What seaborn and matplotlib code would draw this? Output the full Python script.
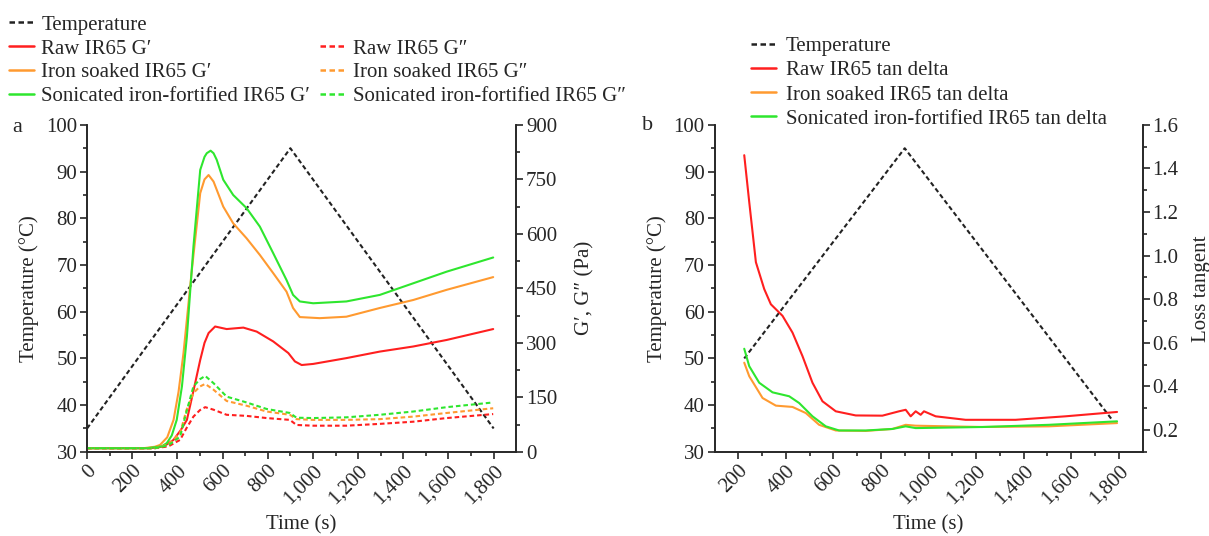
import matplotlib.pyplot as plt
import matplotlib.ticker as mticker
from matplotlib.lines import Line2D
import pandas as pd
import seaborn as sns

# temperature profile (°C)
temp_a_time = [0, 900, 1800]
temp_a_val = [35, 95, 35]
temp_b_time = [225, 900, 1770]
temp_b_val = [50, 95, 37]

# panel a: storage / loss modulus (Pa)
g_time_sonic = [0, 264, 330, 353, 375, 397, 420, 442, 471, 501, 520, 530, 547, 560, 574, 603,
                647, 706, 765, 824, 883, 912, 942, 1001, 1148, 1296, 1444, 1592, 1798]
g1_sonic = [10, 10, 15, 24, 45, 88, 180, 317, 565, 776, 812, 822, 829, 822, 804, 749,
            707, 671, 620, 547, 473, 432, 414, 409, 414, 432, 464, 496, 535]
g_time_iron = [0, 250, 300, 323, 355, 383, 405, 427, 464, 501, 520, 538, 560, 603, 647, 706,
               765, 824, 883, 912, 942, 1030, 1148, 1296, 1444, 1592, 1798]
g1_iron = [10, 10, 14, 19, 40, 88, 165, 272, 501, 712, 750, 762, 744, 675, 629, 588,
           542, 492, 441, 396, 371, 368, 372, 396, 418, 446, 481]
g_time_raw = [0, 280, 340, 383, 415, 442, 470, 501, 520, 538, 567, 618, 692, 751, 824, 891,
              920, 950, 1001, 1148, 1296, 1444, 1592, 1798]
g1_raw = [10, 10, 15, 33, 60, 88, 165, 253, 300, 327, 345, 338, 342, 331, 304, 272,
          249, 239, 242, 258, 276, 290, 308, 338]

g2_time = [0, 300, 360, 412, 440, 471, 500, 523, 560, 618, 706, 795, 898, 927, 1001, 1148,
           1296, 1444, 1592, 1798]
g2_sonic = [10, 10, 18, 42, 110, 180, 200, 209, 189, 152, 136, 118, 107, 94, 93, 95,
            102, 111, 123, 136]
g2_iron = [10, 10, 20, 52, 115, 162, 180, 187, 171, 140, 127, 111, 102, 90, 88, 88,
           90, 97, 107, 120]
g2_raw = [10, 10, 15, 33, 65, 97, 115, 123, 116, 102, 99, 93, 88, 74, 72, 72,
          77, 83, 93, 104]

# panel b: loss tangent
td_time_raw = [225, 246, 274, 309, 337, 386, 428, 470, 512, 554, 610, 694, 806, 876, 904,
               925, 946, 967, 981, 1030, 1156, 1366, 1576, 1793]
td_raw = [1.461, 1.246, 0.970, 0.847, 0.777, 0.724, 0.647, 0.539, 0.417, 0.332, 0.286, 0.267,
          0.266, 0.286, 0.293, 0.263, 0.286, 0.270, 0.286, 0.263, 0.247, 0.247, 0.263, 0.283]
td_time_sonic = [225, 246, 288, 344, 414, 456, 512, 568, 624, 736, 848, 904, 946, 1226, 1506, 1793]
td_sonic = [0.573, 0.493, 0.417, 0.373, 0.355, 0.324, 0.263, 0.217, 0.198, 0.198, 0.205,
            0.217, 0.209, 0.214, 0.224, 0.240]
td_time_iron = [225, 246, 302, 358, 428, 484, 540, 610, 736, 848, 904, 946, 1226, 1506, 1793]
td_iron = [0.509, 0.447, 0.347, 0.312, 0.306, 0.278, 0.224, 0.198, 0.196, 0.205, 0.224,
           0.220, 0.214, 0.217, 0.232]

RED = "#ff1f1f"
ORANGE = "#ff9a30"
GREEN = "#2ee62e"
FS = 15

sns.set_style("ticks")
plt.rcParams['font.family'] = ['Liberation Serif', 'DejaVu Serif']
plt.rcParams['font.size'] = FS
plt.rcParams['xtick.direction'] = 'out'
plt.rcParams['ytick.direction'] = 'out'

fig = plt.figure(figsize=(12.09, 5.36), dpi=100)
ax_a = fig.add_axes([0.072, 0.157, 0.355, 0.610])
ax_b = fig.add_axes([0.591, 0.157, 0.354, 0.610])
ax_a2 = ax_a.twinx()
ax_b2 = ax_b.twinx()

tdash = (0, (2.2, 1.4))
gdash = (0, (2.2, 1.4))
LW = 1.5

# panel a
sns.lineplot(x=temp_a_time, y=temp_a_val, ax=ax_a, color='#222222', linestyle=tdash, lw=LW)
sns.lineplot(x=g_time_raw, y=g1_raw, ax=ax_a2, color=RED, lw=LW)
sns.lineplot(x=g_time_iron, y=g1_iron, ax=ax_a2, color=ORANGE, lw=LW)
sns.lineplot(x=g_time_sonic, y=g1_sonic, ax=ax_a2, color=GREEN, lw=LW)
sns.lineplot(x=g2_time, y=g2_raw, ax=ax_a2, color=RED, linestyle=gdash, lw=LW)
sns.lineplot(x=g2_time, y=g2_iron, ax=ax_a2, color=ORANGE, linestyle=gdash, lw=LW)
sns.lineplot(x=g2_time, y=g2_sonic, ax=ax_a2, color=GREEN, linestyle=gdash, lw=LW)

ax_a.set_xlim(0, 1900)
ax_a.set_ylim(30, 100)
ax_a2.set_ylim(0, 900)
ax_a.set_xticks(range(0, 1801, 200))
ax_a.xaxis.set_minor_locator(mticker.FixedLocator(range(100, 1801, 200)))
ax_a.yaxis.set_minor_locator(mticker.MultipleLocator(5))
ax_a2.set_yticks(range(0, 901, 150))
ax_a2.yaxis.set_minor_locator(mticker.MultipleLocator(75))
ax_a.set_ylabel('Temperature (°C)', labelpad=5)
ax_a2.set_ylabel('G′, G″ (Pa)', labelpad=13)
ax_a.set_xlabel('Time (s)', labelpad=5)

# panel b
sns.lineplot(x=temp_b_time, y=temp_b_val, ax=ax_b, color='#222222', linestyle=tdash, lw=LW)
sns.lineplot(x=td_time_raw, y=td_raw, ax=ax_b2, color=RED, lw=LW)
sns.lineplot(x=td_time_iron, y=td_iron, ax=ax_b2, color=ORANGE, lw=LW)
sns.lineplot(x=td_time_sonic, y=td_sonic, ax=ax_b2, color=GREEN, lw=LW)

ax_b.set_xlim(100, 1900)
ax_b.set_ylim(30, 100)
ax_b2.set_ylim(0.1, 1.6)
ax_b.set_xticks(range(200, 1801, 200))
ax_b.xaxis.set_minor_locator(mticker.FixedLocator(range(300, 1801, 200)))
ax_b.yaxis.set_minor_locator(mticker.MultipleLocator(5))
ax_b2.set_yticks([0.2, 0.4, 0.6, 0.8, 1.0, 1.2, 1.4, 1.6])
ax_b2.yaxis.set_minor_locator(mticker.MultipleLocator(0.1))
ax_b2.yaxis.set_major_formatter(mticker.FormatStrFormatter('%.1f'))
ax_b.set_ylabel('Temperature (°C)', labelpad=5)
ax_b2.set_ylabel('Loss tangent', labelpad=10)
ax_b.set_xlabel('Time (s)', labelpad=5)

for ax in (ax_a, ax_b):
    ax.xaxis.set_major_formatter(mticker.FuncFormatter(lambda v, p: f'{int(v):,}'))
    for lab in ax.get_xticklabels():
        lab.set_rotation(45)
        lab.set_ha('right')
        lab.set_rotation_mode('anchor')
for ax in (ax_a, ax_a2, ax_b, ax_b2):
    ax.spines['top'].set_visible(False)
    for s in ax.spines.values():
        s.set_linewidth(1.2)
    ax.tick_params(which='major', length=5, width=1.2, labelsize=FS, pad=2)
    ax.tick_params(which='minor', length=3, width=1.2)

fig.text(0.010, 0.763, 'a', fontsize=FS + 1, va='center')
fig.text(0.531, 0.766, 'b', fontsize=FS + 1, va='center')

# legends
def h(color, ls='-'):
    return Line2D([], [], color=color, linestyle=ls, lw=1.8)

blank = Line2D([], [], color='none')
hand_a = [h('#222222', tdash), h(RED), h(ORANGE), h(GREEN),
          blank, h(RED, gdash), h(ORANGE, gdash), h(GREEN, gdash)]
lab_a = ['Temperature', 'Raw IR65 G′', 'Iron soaked IR65 G′', 'Sonicated iron-fortified IR65 G′',
         '', 'Raw IR65 G″', 'Iron soaked IR65 G″', 'Sonicated iron-fortified IR65 G″']
fig.legend(hand_a, lab_a, ncol=2, loc='upper left', bbox_to_anchor=(-0.003, 0.995),
           frameon=False, fontsize=FS, handlelength=1.2, handletextpad=0.35,
           columnspacing=0.5, labelspacing=0.2, borderaxespad=0.2)

hand_b = [h('#222222', tdash), h(RED), h(ORANGE), h(GREEN)]
lab_b = ['Temperature', 'Raw IR65 tan delta', 'Iron soaked IR65 tan delta',
         'Sonicated iron-fortified IR65 tan delta']
fig.legend(hand_b, lab_b, loc='upper left', bbox_to_anchor=(0.611, 0.955),
           frameon=False, fontsize=FS, handlelength=1.2, handletextpad=0.45,
           labelspacing=0.22, borderaxespad=0.2)

fig.savefig('out.png', dpi=100)
